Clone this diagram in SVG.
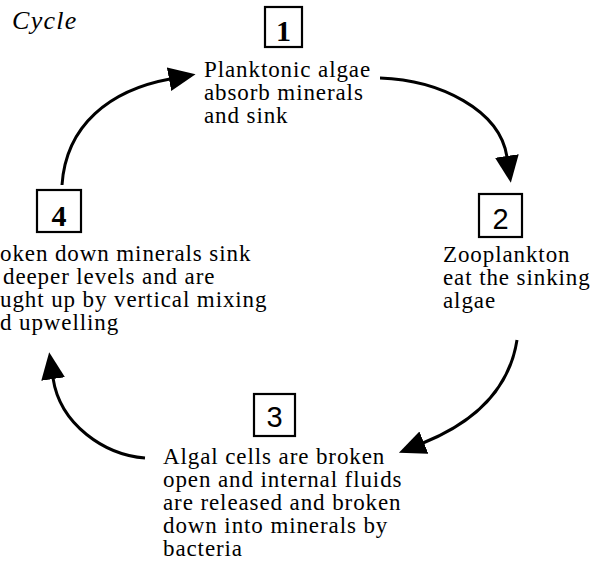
<svg xmlns="http://www.w3.org/2000/svg" width="597" height="572" viewBox="0 0 597 572">
  <style>
    .lbl { font-family: "Liberation Serif", "DejaVu Serif", serif; font-size: 23px; letter-spacing: 0.9px; fill: #000; }
    .num { font-family: "Liberation Serif", "DejaVu Serif", serif; font-size: 30px; font-weight: bold; fill: #000; text-anchor: middle; }
    .num-sans { font-family: "Liberation Sans", Arial, sans-serif; font-size: 29px; fill: #000; text-anchor: middle; }
    .box { fill: #fff; stroke: #000; stroke-width: 2.2; }
    .title { font-family: "Liberation Serif", "DejaVu Serif", serif; font-style: italic; font-size: 26px; letter-spacing: 1.3px; fill: #000; }
    .arc { fill: none; stroke: #000; stroke-width: 3; }
  </style>
  <defs>
    <marker id="head" viewBox="0 0 27 24" refX="1" refY="12" markerWidth="27" markerHeight="24" markerUnits="userSpaceOnUse" orient="auto">
      <path d="M0,0 L27,12 L0,24 z" fill="#000"/>
    </marker>
  </defs>
  <rect width="597" height="572" fill="#fff"/>

  <text class="title" x="12" y="29">Cycle</text>

  <g id="connectors">
    <path class="arc" d="M62,185 C66,125 110,90 170,79" marker-end="url(#head)"/>
    <path class="arc" d="M380,78 C440,80 500,110 507,157" marker-end="url(#head)"/>
    <path class="arc" d="M517,340 C510,385 480,420 423,443" marker-end="url(#head)"/>
    <path class="arc" d="M145,458 C105,455 60,425 53,378" marker-end="url(#head)"/>
  </g>

  <g id="node1">
    <rect class="box" x="265" y="7" width="37" height="40"/>
    <text class="num" x="283.5" y="41">1</text>
    <text class="lbl" x="204" y="77">Planktonic algae</text>
    <text class="lbl" x="204" y="100">absorb minerals</text>
    <text class="lbl" x="204" y="123">and sink</text>
  </g>

  <g id="node2">
    <rect class="box" x="479" y="194" width="43" height="43"/>
    <text class="num-sans" x="500.5" y="229">2</text>
    <text class="lbl" x="443" y="262">Zooplankton</text>
    <text class="lbl" x="443" y="285">eat the sinking</text>
    <text class="lbl" x="443" y="308">algae</text>
  </g>

  <g id="node3">
    <rect class="box" x="254" y="394" width="41" height="42"/>
    <text class="num-sans" x="274.5" y="427">3</text>
    <text class="lbl" x="163" y="464">Algal cells are broken</text>
    <text class="lbl" x="163" y="487">open and internal fluids</text>
    <text class="lbl" x="163" y="510">are released and broken</text>
    <text class="lbl" x="163" y="533">down into minerals by</text>
    <text class="lbl" x="163" y="556">bacteria</text>
  </g>

  <g id="node4">
    <rect class="box" x="37" y="190" width="44" height="42"/>
    <text class="num" x="59" y="226">4</text>
    <text class="lbl" x="0" y="261">oken down minerals sink</text>
    <text class="lbl" x="3" y="284">deeper levels and are</text>
    <text class="lbl" x="0" y="307">ught up by vertical mixing</text>
    <text class="lbl" x="0" y="330">d upwelling</text>
  </g>
</svg>
